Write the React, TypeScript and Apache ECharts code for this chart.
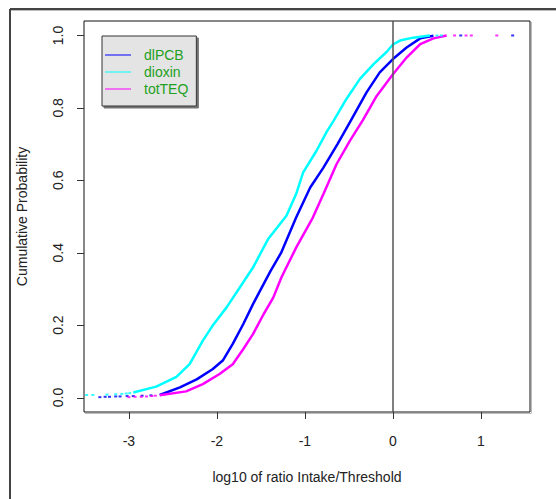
import React, { useEffect, useRef } from "react";
import * as echarts from "echarts";

// ECDF curves: x = log10 ratio, p = cumulative probability
const dlpcbX = [-2.65, -2.42, -2.23, -2.05, -1.93, -1.82, -1.7, -1.59, -1.47, -1.39, -1.27, -1.1, -0.94, -0.79, -0.63, -0.49, -0.3, -0.15, 0.0, 0.155, 0.31, 0.46];
const dlpcbP = [0.007, 0.028, 0.05, 0.078, 0.103, 0.148, 0.203, 0.258, 0.313, 0.35, 0.4, 0.497, 0.58, 0.635, 0.7, 0.76, 0.843, 0.898, 0.935, 0.967, 0.992, 0.999];
const dioxinX = [-2.95, -2.69, -2.46, -2.31, -2.16, -2.05, -1.89, -1.74, -1.59, -1.42, -1.21, -1.1, -1.02, -0.87, -0.75, -0.68, -0.53, -0.375, -0.22, -0.07, 0.0, 0.08, 0.23, 0.42];
const dioxinP = [0.014, 0.03, 0.057, 0.092, 0.157, 0.198, 0.249, 0.304, 0.359, 0.437, 0.502, 0.562, 0.622, 0.681, 0.735, 0.762, 0.824, 0.88, 0.921, 0.955, 0.975, 0.986, 0.994, 1.0];
const totteqX = [-2.65, -2.35, -2.16, -1.97, -1.82, -1.7, -1.59, -1.47, -1.36, -1.27, -1.23, -1.1, -0.91, -0.79, -0.64, -0.49, -0.34, -0.185, 0.0, 0.155, 0.31, 0.46, 0.61];
const totteqP = [0.006, 0.017, 0.037, 0.065, 0.092, 0.134, 0.175, 0.23, 0.276, 0.33, 0.35, 0.414, 0.497, 0.562, 0.645, 0.709, 0.767, 0.833, 0.893, 0.939, 0.976, 0.992, 1.0];

// sparse tail points of the ECDFs
const dlpcbTailX = [-3.33, -3.27, -3.22, -3.15, -3.1, -3.02, -2.95, -2.85, -2.75, 0.77, 1.36];
const dlpcbTailP = [0.001, 0.002, 0.002, 0.003, 0.003, 0.004, 0.004, 0.005, 0.006, 1.0, 1.0];
const dioxinTailX = [-3.48, -3.41, -3.25, -3.15, -3.08, -3.03, -2.99, 0.5, 0.55];
const dioxinTailP = [0.007, 0.007, 0.008, 0.009, 0.01, 0.011, 0.012, 1.0, 1.0];
const totteqTailX = [-3.0, -2.93, -2.86, -2.8, -2.74, -2.7, 0.7, 0.83, 0.89, 1.18];
const totteqTailP = [0.001, 0.002, 0.002, 0.003, 0.004, 0.005, 1.0, 1.0, 1.0, 1.0];

const seriesNames = ["dlPCB", "dioxin", "totTEQ"];
const seriesColors = ["#0000ff", "#00ffff", "#ff00ff"];
const xTicks = [-3, -2, -1, 0, 1];
const yTicks = [0, 0.2, 0.4, 0.6, 0.8, 1.0];
const xMin = -3.51;
const xMax = 1.557;
const yMin = -0.04;
const yMax = 1.04;

const FONT = "'Liberation Sans', Arial, sans-serif";
const TICK_LEN = 7;
const W = 556;
const H = 499;
const GRID = { left: 84, right: 26, top: 21, bottom: 87 };

function pairs(xs: number[], ps: number[]) {
  return xs.map((x, i) => [x, ps[i]]);
}

const frameGraphics: any[] = [
  { type: "line", shape: { x1: 10, y1: 9, x2: 556, y2: 9 }, style: { stroke: "#444", lineWidth: 2 } },
  { type: "line", shape: { x1: 10, y1: 10.5, x2: 556, y2: 10.5 }, style: { stroke: "#bbb", lineWidth: 1 } },
  { type: "line", shape: { x1: 10, y1: 9, x2: 10, y2: 499 }, style: { stroke: "#444", lineWidth: 2 } },
  { type: "line", shape: { x1: 531.5, y1: 22, x2: 531.5, y2: 413 }, style: { stroke: "#bbb", lineWidth: 1 } },
  { type: "line", shape: { x1: 85, y1: 413.5, x2: 531.5, y2: 413.5 }, style: { stroke: "#bbb", lineWidth: 1 } },
];

// outward R-style ticks, placed by the same linear mapping as the grid's value axes
function tickGraphics(): any[] {
  const gw = W - GRID.left - GRID.right;
  const gh = H - GRID.top - GRID.bottom;
  const bottom = H - GRID.bottom;
  const out: any[] = [];
  xTicks.forEach((v) => {
    const x = Math.round(GRID.left + ((v - xMin) / (xMax - xMin)) * gw) + 0.5;
    out.push({
      type: "line",
      shape: { x1: x, y1: bottom, x2: x, y2: bottom + TICK_LEN },
      style: { stroke: "#333", lineWidth: 1 },
      z: 50,
    });
  });
  yTicks.forEach((v) => {
    const y = Math.round(GRID.top + ((yMax - v) / (yMax - yMin)) * gh) + 0.5;
    out.push({
      type: "line",
      shape: { x1: GRID.left, y1: y, x2: GRID.left - TICK_LEN, y2: y },
      style: { stroke: "#333", lineWidth: 1 },
      z: 50,
    });
  });
  return out;
}

export default function App() {
  const ref = useRef<HTMLDivElement>(null);
  useEffect(() => {
    if (!ref.current) return;
    const chart = echarts.init(ref.current, undefined, { renderer: "svg" });
    const curves = [pairs(dlpcbX, dlpcbP), pairs(dioxinX, dioxinP), pairs(totteqX, totteqP)];
    const tails = [pairs(dlpcbTailX, dlpcbTailP), pairs(dioxinTailX, dioxinTailP), pairs(totteqTailX, totteqTailP)];
    const lineSeries: any[] = seriesNames.map((name, i) => ({
      name,
      type: "line",
      data: curves[i],
      showSymbol: false,
      color: seriesColors[i],
      lineStyle: { width: 2.5, color: seriesColors[i] },
      z: 3,
      markLine:
        i === 0
          ? {
              silent: true,
              symbol: "none",
              label: { show: false },
              lineStyle: { color: "#555", width: 1.5, type: "solid" },
              data: [{ xAxis: 0 }],
            }
          : undefined,
    }));
    const tailSeries: any[] = seriesNames.map((name, i) => ({
      name: name + " tail",
      type: "scatter",
      data: tails[i],
      symbol: "rect",
      symbolSize: [3, 2],
      itemStyle: { color: seriesColors[i] },
      z: 3,
    }));
    chart.setOption({
      animation: false,
      backgroundColor: "#ffffff",
      grid: {
        ...GRID,
        show: true,
        borderColor: "#111",
        borderWidth: 1,
        backgroundColor: "transparent",
      },
      xAxis: {
        type: "value",
        min: xMin,
        max: xMax,
        position: "bottom",
        axisLine: { show: false, onZero: false },
        splitLine: { show: false },
        axisTick: { show: false },
        axisLabel: {
          show: true,
          customValues: xTicks,
          margin: 22,
          fontSize: 14,
          fontFamily: FONT,
          color: "#222",
        },
        name: "log10 of ratio Intake/Threshold",
        nameLocation: "middle",
        nameGap: 58,
        nameTextStyle: { fontSize: 14, fontFamily: FONT, color: "#222" },
      },
      yAxis: {
        type: "value",
        min: yMin,
        max: yMax,
        position: "left",
        axisLine: { show: false, onZero: false },
        splitLine: { show: false },
        axisTick: { show: false },
        axisLabel: {
          show: true,
          customValues: yTicks,
          rotate: 90,
          margin: 19,
          fontSize: 14,
          fontFamily: FONT,
          color: "#222",
          formatter: (v: number) => v.toFixed(1),
        },
        name: "Cumulative Probability",
        nameLocation: "middle",
        nameRotate: 90,
        nameGap: 55,
        nameTextStyle: { fontSize: 14, fontFamily: FONT, color: "#222" },
      },
      legend: {
        data: seriesNames,
        orient: "vertical",
        left: 102,
        top: 36,
        icon: "rect",
        itemWidth: 26,
        itemHeight: 1,
        itemGap: 3,
        padding: [12, 8, 10, 3],
        backgroundColor: "#e4e4e4",
        borderColor: "#333",
        borderWidth: 1,
        borderRadius: 0,
        shadowColor: "rgba(0,0,0,0.55)",
        shadowOffsetX: 2,
        shadowOffsetY: 2,
        shadowBlur: 1,
        selectedMode: false,
        textStyle: {
          color: "#22a022",
          fontSize: 14,
          fontFamily: FONT,
          padding: [0, 0, 0, 8],
        },
      },
      graphic: [...frameGraphics, ...tickGraphics()],
      series: [...lineSeries, ...tailSeries],
    });
    return () => chart.dispose();
  }, []);
  return (
    <div
      ref={ref}
      style={{ position: "fixed", left: 0, top: 0, width: W, height: H, background: "#fff" }}
    />
  );
}
